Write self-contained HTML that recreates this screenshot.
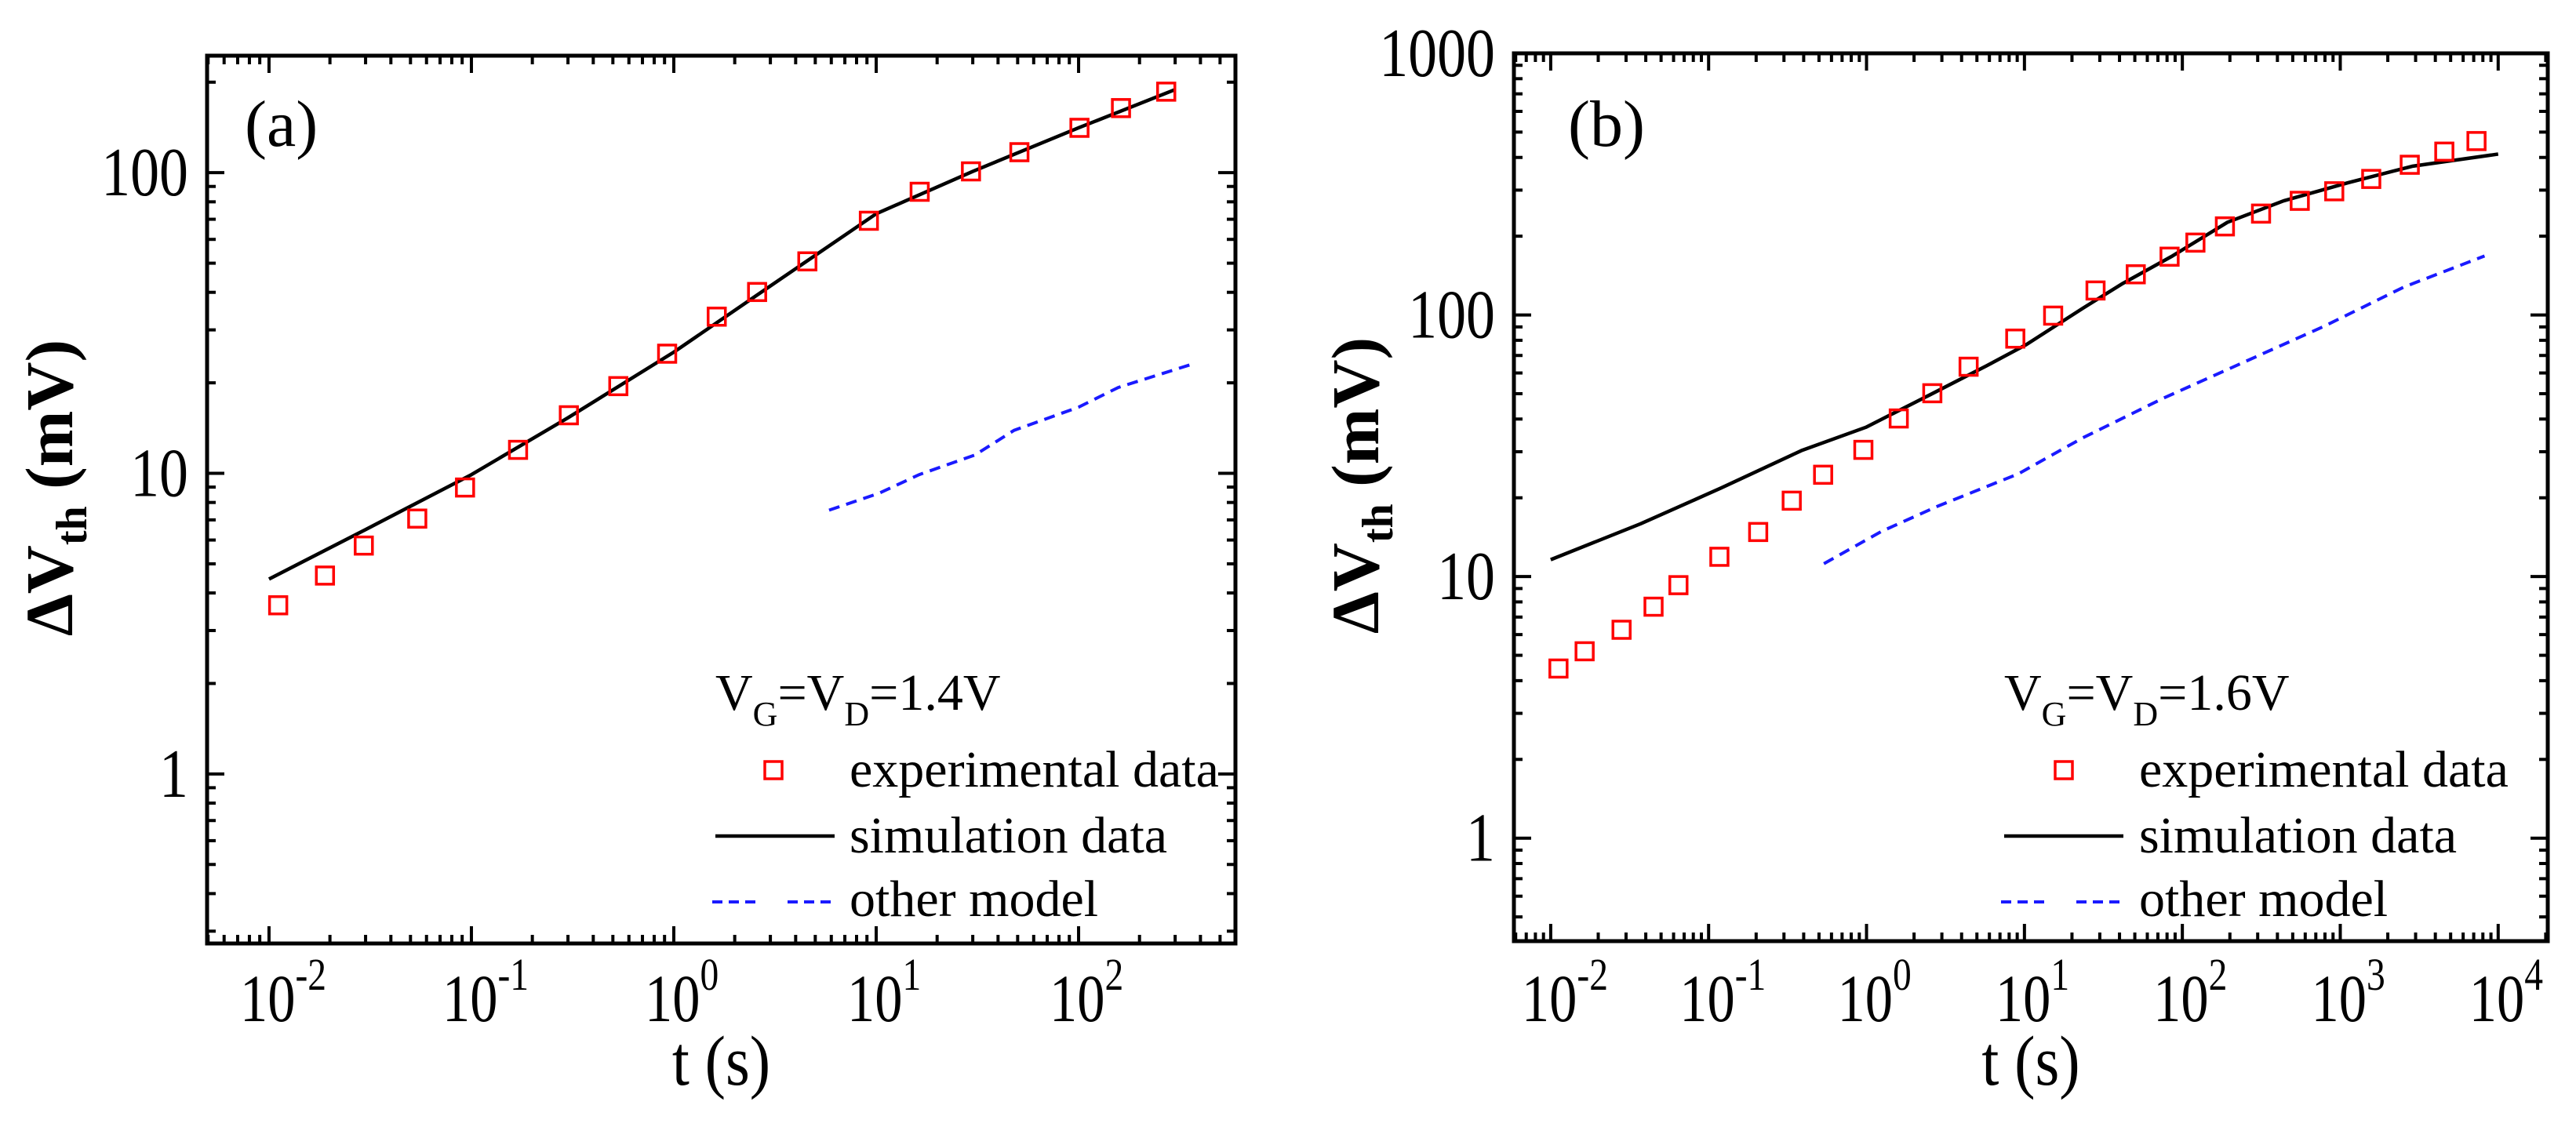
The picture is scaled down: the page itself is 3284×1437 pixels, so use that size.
<!DOCTYPE html>
<html><head><meta charset="utf-8">
<style>
html,body{margin:0;padding:0;background:#fff;}
svg{display:block;}
text{font-family:"Liberation Serif","DejaVu Serif",serif;fill:#000;}
</style></head>
<body>
<svg id="fig" xmlns="http://www.w3.org/2000/svg" width="3284" height="1437" viewBox="0 0 3284 1437"></svg>
<script>
// ---------- Panel (a) data ----------
const aExpT = [0.0111,0.0189,0.0294,0.054,0.093,0.17,0.303,0.532,0.927,1.63,2.58,4.57,9.2,16.4,29.4,51,101,162,271];
const aExpV = [3.64,4.57,5.75,7.07,8.97,11.97,15.6,19.5,25.0,33.2,40.1,50.7,69.2,86.4,101,117,141,164,186];
const aSimT = [0.01,0.03,0.1,0.3,1,3,10,30,100,300];
const aSimV = [4.45,6.5,9.9,15.3,25.3,42,73,101,141,189];
const aOthT = [5.85,10.4,16.3,30.7,48,100,157,366];
const aOthV = [7.54,8.6,9.9,11.5,13.9,16.6,19.3,23.1];
const aXTicks = [-2,-1,0,1,2];
const aYTicks = ["1","10","100"];
// ---------- Panel (b) data ----------
const bExpT = [0.0112,0.0164,0.0281,0.0448,0.0644,0.117,0.206,0.336,0.531,0.955,1.60,2.61,4.43,8.75,15.2,28.2,50.7,83,121,186,315,554,916,1571,2755,4560,7290];
const bExpV = [4.45,5.18,6.26,7.67,9.27,11.9,14.8,19.5,24.5,30.5,40.2,50.2,63.4,81.2,99.4,124,143,167,189,218,244,273,297,331,375,421,462];
const bSimT = [0.01,0.037,0.12,0.387,0.99,2.52,5.73,10.3,23.4,42,85,193,438,1117,2851,10000];
const bSimV = [11.6,15.9,21.8,30.3,37.2,49.5,63.8,77.1,106,132,167,226,273,320,370,412];
const bOthT = [0.537,1.25,2.84,9.16,23.4,75.5,244,787,2541,8200];
const bOthV = [11.2,14.9,18.6,24.7,33.9,48,65.9,90.4,128,168];
const bXTicks = [-2,-1,0,1,2,3,4];
const bYTicks = ["1","10","100","1000"];

const NS="http://www.w3.org/2000/svg";
const svg=document.getElementById('fig');
function mk(tag,attrs,parent){const e=document.createElementNS(NS,tag);for(const k in attrs)e.setAttribute(k,attrs[k]);(parent||svg).appendChild(e);return e;}

function panel(cfg){
  const g=mk('g',{});
  
  
  const L=cfg.left,R=cfg.right,T=cfg.top,B=cfg.bottom;
  const lx0=Math.log10(cfg.xmin),lx1=Math.log10(cfg.xmax),ly0=Math.log10(cfg.ymin),ly1=Math.log10(cfg.ymax);
  const X=v=>L+(Math.log10(v)-lx0)/(lx1-lx0)*(R-L);
  const Y=v=>B-(Math.log10(v)-ly0)/(ly1-ly0)*(B-T);
  const tk=mk('g',{stroke:'#000','stroke-width':4},g);
  
  
  for(let e=Math.floor(lx0);e<=Math.ceil(lx1);e++){for(let k=1;k<10;k++){const v=k*Math.pow(10,e);if(v<cfg.xmin||v>cfg.xmax)continue;const x=X(v);const len=k===1?22:11;
    mk('line',{x1:x,y1:B,x2:x,y2:B-len},tk);mk('line',{x1:x,y1:T,x2:x,y2:T+len},tk);}}
  for(let e=Math.floor(ly0);e<=Math.ceil(ly1);e++){for(let k=1;k<10;k++){const v=k*Math.pow(10,e);if(v<cfg.ymin||v>cfg.ymax*1.001)continue;const y=Y(v);const len=k===1?22:11;
    mk('line',{x1:L,y1:y,x2:L+len,y2:y},tk);mk('line',{x1:R,y1:y,x2:R-len,y2:y},tk);}}
  const fr=mk('rect',{x:L,y:T,width:R-L,height:B-T,fill:'none',stroke:'#000','stroke-width':5},g);
  
  
  cfg.xticks.forEach(e=>{
    const t=mk('text',{transform:`translate(${X(Math.pow(10,e))-37},1302) scale(0.82,1)`,x:0,y:0,'font-size':86},g);
    
    
    t.appendChild(document.createTextNode('10'));
    const s=mk('tspan',{dy:-40,'font-size':58},t);s.textContent=String(e);
  });
  cfg.yticks.forEach(s=>{
    const t=mk('text',{transform:`translate(${L-24},${Y(parseFloat(s))+29}) scale(0.84,1)`,x:0,y:0,'font-size':88,'text-anchor':'end'},g);
    
    
    t.textContent=s;
  });
  const xt=mk('text',{transform:`translate(${(L+R)/2},1383) scale(0.88,1)`,x:0,y:0,'font-size':90,'text-anchor':'middle'},g);
  
  
  xt.textContent='t (s)';
  const yt=mk('text',{transform:`translate(${cfg.ytx},${(T+B)/2-15}) rotate(-90)`,'font-size':86,'text-anchor':'middle','font-weight':'bold'},g);
  
  
  yt.appendChild(document.createTextNode('\u0394V'));
  const sb=mk('tspan',{dy:18,'font-size':56},yt);sb.textContent='th';
  const rs=mk('tspan',{dy:-18},yt);rs.textContent=' (mV)';
  const pl=mk('text',{x:cfg.plx,y:186,'font-size':84},g);
  
  
  pl.textContent='('+cfg.id+')';
  const cp=mk('clipPath',{id:'clip-'+cfg.id},g);mk('rect',{x:L,y:T,width:R-L,height:B-T},cp);
  const dg=mk('g',{'clip-path':`url(#clip-${cfg.id})`},g);
  const op=mk('polyline',{points:cfg.oT.map((t,i)=>X(t)+','+Y(cfg.oV[i])).join(' '),fill:'none',stroke:'#1a1aff','stroke-width':4,'stroke-dasharray':'14 9'},dg);
  
  
  const sp=mk('polyline',{points:cfg.sT.map((t,i)=>X(t)+','+Y(cfg.sV[i])).join(' '),fill:'none',stroke:'#000','stroke-width':4.5,'stroke-linejoin':'round'},dg);
  
  
  cfg.eT.forEach((t,i)=>{
    const r=mk('rect',{x:X(t)-11,y:Y(cfg.eV[i])-11,width:22,height:22,fill:'none',stroke:'#ff0000','stroke-width':3.5},dg);
    
    
  });
  const lg=mk('g',{},g);
  
  
  const lx=cfg.lgx, tx=cfg.lgtx;
  const cond=mk('text',{x:lx,y:905,'font-size':66},lg);
  
  
  cond.appendChild(document.createTextNode('V'));
  let q=mk('tspan',{dy:20,'font-size':44},cond);q.textContent='G';
  q=mk('tspan',{dy:-20},cond);q.textContent='=V';
  q=mk('tspan',{dy:20,'font-size':44},cond);q.textContent='D';
  q=mk('tspan',{dy:-20},cond);q.textContent='='+cfg.vg;
  mk('rect',{x:cfg.sqx-11,y:971,width:22,height:22,fill:'none',stroke:'#ff0000','stroke-width':3.5},lg);
  const e1=mk('text',{x:tx,y:1003,'font-size':66},lg);e1.textContent='experimental data';
  
  
  mk('line',{x1:lx,y1:1066,x2:lx+152,y2:1066,stroke:'#000','stroke-width':4.5},lg);
  const e2=mk('text',{x:tx,y:1087,'font-size':66},lg);e2.textContent='simulation data';
  
  
  mk('line',{x1:lx-4,y1:1150,x2:lx+56,y2:1150,stroke:'#1a1aff','stroke-width':4,'stroke-dasharray':'13 8'},lg);
  mk('line',{x1:lx+92,y1:1150,x2:lx+152,y2:1150,stroke:'#1a1aff','stroke-width':4,'stroke-dasharray':'13 8'},lg);
  const e3=mk('text',{x:tx,y:1168,'font-size':66},lg);e3.textContent='other model';
  
  
}

panel({id:'a',left:264,right:1575,top:71,bottom:1203,xmin:Math.pow(10,-2.306),xmax:Math.pow(10,2.775),ymin:0.273,ymax:245,
  xticks:aXTicks,yticks:aYTicks,ytx:92,plx:312,eT:aExpT,eV:aExpV,sT:aSimT,sV:aSimV,oT:aOthT,oV:aOthV,lgx:912,lgtx:1083,sqx:986,vg:'1.4V'});
panel({id:'b',left:1930,right:3248,top:68,bottom:1200,xmin:Math.pow(10,-2.233),xmax:Math.pow(10,4.314),ymin:0.404,ymax:1000,
  xticks:bXTicks,yticks:bYTicks,ytx:1757,plx:1999,eT:bExpT,eV:bExpV,sT:bSimT,sV:bSimV,oT:bOthT,oV:bOthV,lgx:2555,lgtx:2727,sqx:2631,vg:'1.6V'});
</script>
</body></html>
